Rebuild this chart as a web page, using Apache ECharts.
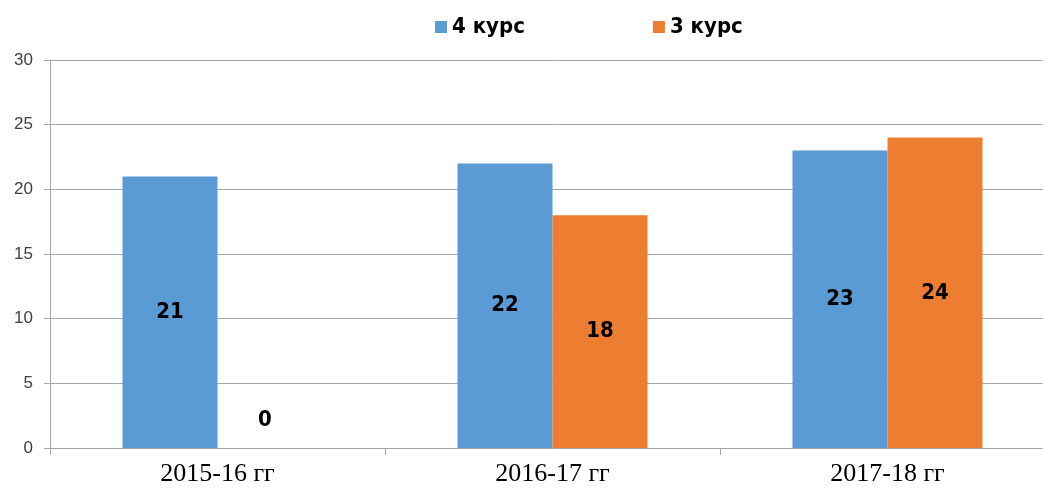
<!DOCTYPE html>
<html>
<head>
<meta charset="utf-8">
<script src="https://cdn.jsdelivr.net/npm/echarts@6/dist/echarts.min.js"></script>
<style>
html, body { margin: 0; padding: 0; background: #fff; overflow: hidden; }
/* a bit wider than the window: the plot runs past the right edge, as in the reference */
#chart { width: 1055px; height: 488px; }
</style>
</head>
<body>
<div id="chart"></div>
<script>
var categories = ['2015-16 гг', '2016-17 гг', '2017-18 гг'];
var course4 = [21, 22, 23];
var course3 = [0, 18, 24];
var seriesNames = ['4 курс', '3 курс'];
var yTicks = [0, 5, 10, 15, 20, 25, 30];

var labelStyle = {
	show: true,
	position: 'inside',
	color: '#000',
	fontWeight: 'bold',
	fontSize: 22,
	fontFamily: 'DejaVu Sans Condensed, Liberation Sans'
};

// zero-height bar: Excel still puts its label a little above the axis
var course3Data = course3.map(function(v) {
	if (v === 0) {
		return { value: v, label: { position: 'top', distance: 17 } };
	}
	return v;
});

var chart = echarts.init(document.getElementById('chart'));
chart.setOption({
	animation: false,
	legend: {
		top: 11,
		left: 430,
		itemWidth: 12,
		itemHeight: 12,
		itemGap: 128,
		icon: 'rect',
		textStyle: {
			fontFamily: 'DejaVu Sans Condensed, Liberation Sans',
			fontWeight: 'bold',
			fontSize: 22,
			color: '#000'
		},
		data: seriesNames
	},
	grid: { left: 50, right: 0, top: 60, bottom: 40 },
	xAxis: {
		type: 'category',
		data: categories,
		axisLine: { lineStyle: { color: '#a6a6a6' } },
		axisTick: { show: true, length: 7, lineStyle: { color: '#a6a6a6' } },
		axisLabel: {
			fontFamily: 'Liberation Serif',
			fontSize: 26,
			color: '#000',
			margin: 13
		}
	},
	yAxis: {
		type: 'value',
		min: yTicks[0],
		max: yTicks[yTicks.length - 1],
		interval: 5,
		axisLine: { show: true, lineStyle: { color: '#a6a6a6' } },
		axisTick: { show: true, length: 6, lineStyle: { color: '#a6a6a6' } },
		splitLine: { lineStyle: { color: '#a6a6a6' } },
		axisLabel: {
			fontFamily: 'Liberation Sans',
			fontSize: 17,
			color: '#404040',
			margin: 17
		}
	},
	series: [
		{
			name: seriesNames[0],
			type: 'bar',
			data: course4,
			barWidth: 95,
			barGap: '0%',
			itemStyle: { color: '#5b9bd5' },
			label: labelStyle
		},
		{
			name: seriesNames[1],
			type: 'bar',
			data: course3Data,
			barWidth: 95,
			itemStyle: { color: '#ed7d31' },
			label: labelStyle
		}
	]
});
</script>
</body>
</html>
